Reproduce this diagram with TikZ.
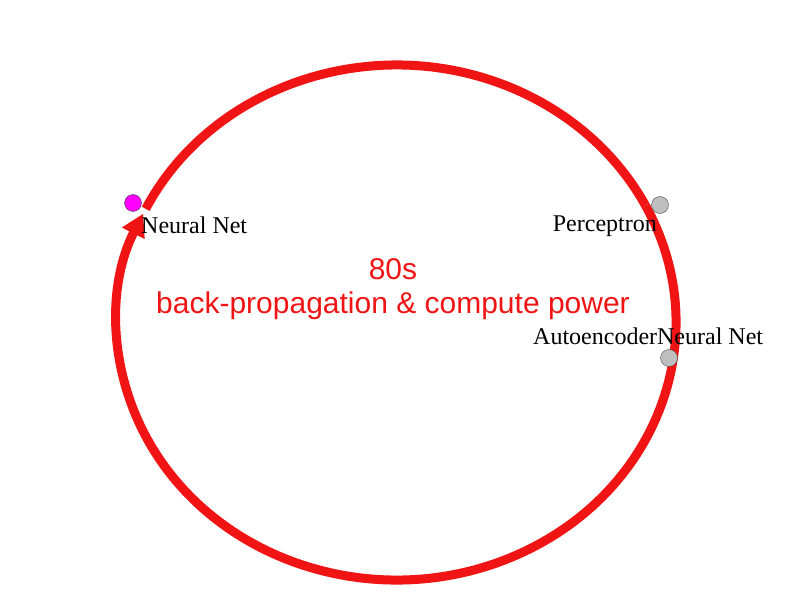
\documentclass[tikz,border=0pt]{standalone}
\usepackage{fontspec}
\setmainfont{Liberation Serif}
\newfontfamily\arialf{Liberation Sans}
\usetikzlibrary{arrows.meta,calc}
\definecolor{ringred}{RGB}{240,20,20}
\definecolor{mag}{RGB}{255,0,255}
\tikzset{ring/.style={draw=ringred,line width=9pt},
 dotm/.style={circle,draw=black!70,fill=mag,minimum size=17pt,inner sep=0pt},
 dotg/.style={circle,draw=black!70,fill=black!25,minimum size=17pt,inner sep=0pt},
 lab/.style={font=\fontsize{24}{26}\selectfont,inner sep=0pt},
 red/.style={font=\arialf\fontsize{30}{34}\selectfont,text=ringred,align=center,inner sep=0pt}}
\begin{document}
\begin{tikzpicture}[x=1pt,y=1pt]
\useasboundingbox (0,0) rectangle (794,595);
\coordinate (c) at (396.5,272.5);
\draw[ring] ($(c)+(153.8:279.5 and 257.5)$) arc[start angle=153.8,end angle=27,x radius=279.5,y radius=257.5];
\draw[ring,-{Triangle[length=22pt,width=24pt]}] ($(c)+(27:279.5 and 257.5)$) arc[start angle=27,end angle=-205,x radius=279.5,y radius=257.5];
\node[dotm] (nn) at (133,392) {};
\node[dotg] (p) at (660,390) {};
\node[dotg] (a) at (669,237) {};
\node[lab,anchor=west] (t1) at (141,370) {Neural Net};
\node[lab,anchor=east] (t2) at (657,369) {Perceptron};
\node[lab,anchor=west] (t3) at (533,259) {Autoencoder\hspace{0pt}Neural Net};
\node[red] (t4) at (393,306) {80s\\back-propagation \& compute power};
\end{tikzpicture}
\end{document}
